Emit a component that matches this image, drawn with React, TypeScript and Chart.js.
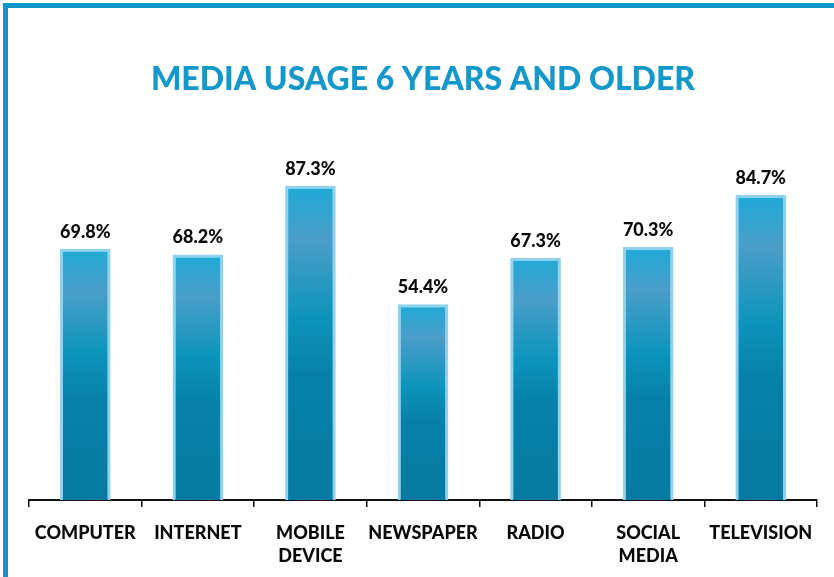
import React, { useEffect, useRef } from "react";
import { Chart, registerables } from "chart.js";

Chart.register(...registerables);

const categories: (string | string[])[] = [
  "COMPUTER",
  "INTERNET",
  ["MOBILE", "DEVICE"],
  "NEWSPAPER",
  "RADIO",
  ["SOCIAL", "MEDIA"],
  "TELEVISION",
];
const usage: number[] = [69.8, 68.2, 87.3, 54.4, 67.3, 70.3, 84.7];
const titleText = "MEDIA USAGE 6 YEARS AND OLDER";

const FONT = "Lato, 'Open Sans', sans-serif";

const valueLabels = {
  id: "valueLabels",
  afterDatasetsDraw(chart: any) {
    const ctx = chart.ctx;
    const meta = chart.getDatasetMeta(0);
    ctx.save();
    ctx.font = `900 18px ${FONT}`;
    ctx.fillStyle = "#0a0a0a";
    ctx.textAlign = "center";
    ctx.textBaseline = "bottom";
    meta.data.forEach((bar: any, i: number) => {
      ctx.fillText(`${usage[i].toFixed(1)}%`, bar.x, bar.y - 8);
    });
    ctx.restore();
  },
};

export default function App() {
  const ref = useRef<HTMLCanvasElement | null>(null);

  useEffect(() => {
    if (!ref.current) return;
    const chart = new Chart(ref.current, {
      type: "bar",
      data: {
        labels: categories,
        datasets: [
          {
            data: usage,
            backgroundColor: (c: any) => {
              const ch = c.chart;
              if (!ch.chartArea || c.type !== "data" || !ch.scales.y) return "#0b8fbb";
              const y = ch.scales.y;
              const top = y.getPixelForValue(usage[c.dataIndex]);
              const bottom = y.getPixelForValue(0);
              const g = ch.ctx.createLinearGradient(0, top, 0, bottom);
              g.addColorStop(0, "#1fa9d7");
              g.addColorStop(0.17, "#4a9ec8");
              g.addColorStop(0.42, "#0c94bc");
              g.addColorStop(0.6, "#0780a9");
              g.addColorStop(1, "#067aa2");
              return g;
            },
            borderColor: "#8fd2ee",
            borderWidth: 3,
            borderSkipped: "start",
            barPercentage: 0.45,
            categoryPercentage: 1,
          },
        ],
      },
      options: {
        responsive: false,
        animation: false,
        layout: { padding: { left: 29, right: 17, top: 0, bottom: 0 } },
        plugins: {
          legend: { display: false },
          tooltip: { enabled: false },
          title: {
            display: true,
            text: titleText,
            color: "#1497c9",
            font: { family: FONT, size: 32, weight: 900, lineHeight: 1.2 },
            padding: { top: 60, bottom: 41.6 },
          },
        },
        scales: {
          y: { display: false, min: 0, max: 100 },
          x: {
            afterFit: (s: any) => {
              s.height = 77;
            },
            grid: {
              offset: true,
              drawOnChartArea: false,
              drawTicks: true,
              tickLength: 7,
              color: "#111111",
              lineWidth: 1.5,
            },
            border: { display: true, color: "#111111", width: 2 },
            ticks: {
              color: "#0a0a0a",
              font: { family: FONT, size: 18, weight: 900, lineHeight: 1.3 },
              padding: 14,
              maxRotation: 0,
              autoSkip: false,
            },
          },
        },
      },
      plugins: [valueLabels],
    });
    return () => chart.destroy();
  }, []);

  return (
    <div
      style={{
        position: "fixed",
        left: 0,
        top: 0,
        width: 834,
        height: 577,
        overflow: "hidden",
        background: "#ffffff",
      }}
    >
      <canvas ref={ref} width={834} height={577} style={{ display: "block" }} />
      <div
        style={{
          position: "absolute",
          left: 3,
          top: 3,
          width: 2000,
          height: 2000,
          borderLeft: "5px solid #0b97c8",
          borderTop: "5px solid #0b97c8",
          pointerEvents: "none",
        }}
      />
    </div>
  );
}
